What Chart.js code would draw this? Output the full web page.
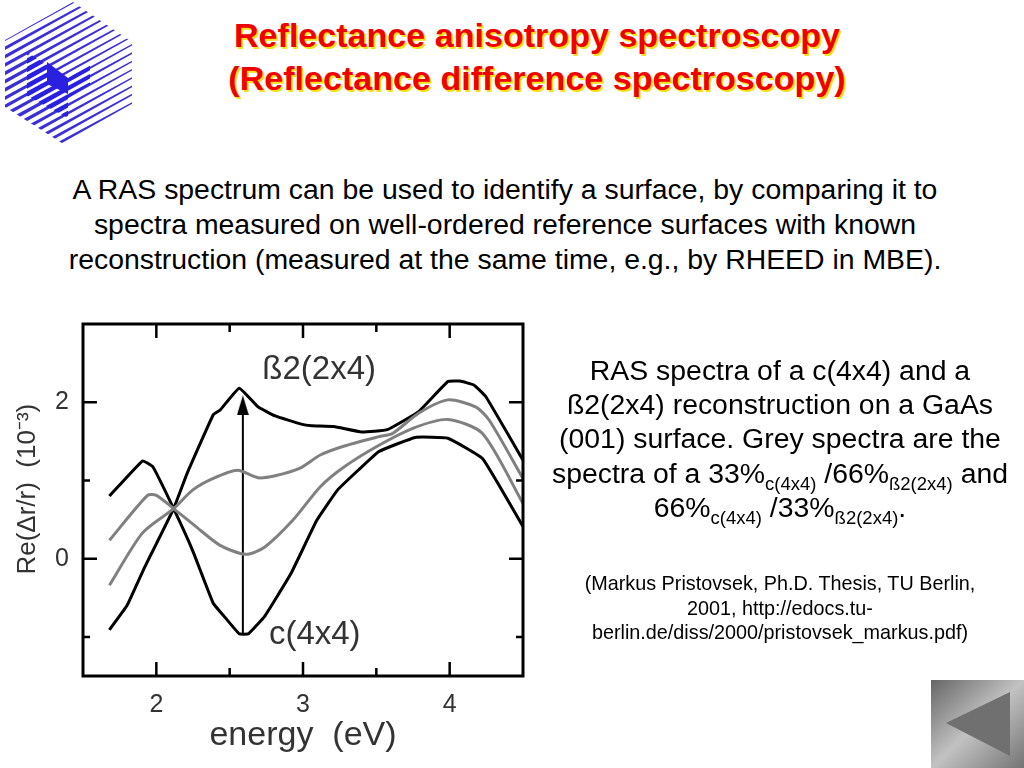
<!DOCTYPE html>
<html>
<head>
<meta charset="utf-8">
<title>Reflectance anisotropy spectroscopy</title>
<script src="https://cdn.jsdelivr.net/npm/chart.js@4/dist/chart.umd.min.js"></script>
<style>
  html, body { margin: 0; padding: 0; background: #fff; }
  body { width: 1024px; height: 768px; position: relative; overflow: hidden; font-family: "Liberation Sans", Arial, sans-serif; color: #000; }
  .block { position: absolute; text-align: center; white-space: nowrap; }
  #title { left: 137px; width: 800px; top: 14px; font-size: 34.1px; line-height: 43px; font-weight: bold; color: #f00000; text-shadow: 2px 2px 0 #f2e21c; }
  #intro { left: 5px; width: 1000px; top: 172px; font-size: 28.4px; line-height: 34.8px; }
  #note { left: 530px; width: 500px; top: 353px; font-size: 28.4px; line-height: 34.2px; }
  #note sub { font-size: 18.5px; line-height: 0; }
  #source { left: 530px; width: 500px; top: 571px; font-size: 19.8px; line-height: 24.5px; }
  #chartBox { position: absolute; left: 0; top: 310px; width: 540px; height: 450px; }
  #logo, #navButton { position: absolute; }
  #logo { left: 0; top: 0; }
  #navButton { left: 931px; top: 680px; }
</style>
</head>
<body>
<svg id="logo" width="140" height="150" viewBox="0 0 140 150"></svg>
<div id="title" class="block">Reflectance anisotropy spectroscopy<br>(Reflectance difference spectroscopy)</div>
<div id="intro" class="block">A RAS spectrum can be used to identify a surface, by comparing it to<br>spectra measured on well-ordered reference surfaces with known<br>reconstruction (measured at the same time, e.g., by RHEED in MBE).</div>
<div id="chartBox"><canvas id="rasChart" width="540" height="450"></canvas></div>
<div id="note" class="block">RAS spectra of a c(4x4) and a<br>ß2(2x4) reconstruction on a GaAs<br>(001) surface. Grey spectra are the<br>spectra of a 33%<sub>c(4x4)</sub> /66%<sub>ß2(2x4)</sub> and<br>66%<sub>c(4x4)</sub> /33%<sub>ß2(2x4)</sub>.</div>
<div id="source" class="block">(Markus Pristovsek, Ph.D. Thesis, TU Berlin,<br>2001, http://edocs.tu-<br>berlin.de/diss/2000/pristovsek_markus.pdf)</div>
<svg id="navButton" width="93" height="88" viewBox="0 0 93 88">
  <defs>
    <linearGradient id="navFill" x1="0" y1="0" x2="1" y2="1">
      <stop offset="0" stop-color="#666"/>
      <stop offset="0.5" stop-color="#c2c2c2"/>
      <stop offset="1" stop-color="#747474"/>
    </linearGradient>
  </defs>
  <rect width="93" height="88" fill="url(#navFill)"/>
  <polygon points="15,43 79,12 79,76" fill="#707070"/>
</svg>
<script>
// values
const beta2Energy = [1.68, 1.80, 1.92, 2.0, 2.118, 2.21, 2.388, 2.435, 2.565, 2.694, 2.81, 2.988, 3.06, 3.21, 3.40, 3.576, 3.788, 3.988, 4.07, 4.165, 4.247, 4.5];
const beta2Values = [-0.91, -0.60, -0.11, 0.19, 0.64, 1.09, 1.84, 1.90, 2.18, 1.94, 1.825, 1.72, 1.70, 1.69, 1.62, 1.65, 1.88, 2.265, 2.27, 2.22, 2.07, 1.26];

const c4x4Energy = [1.68, 1.906, 1.976, 2.118, 2.247, 2.388, 2.459, 2.565, 2.628, 2.741, 2.918, 3.094, 3.235, 3.376, 3.518, 3.765, 3.988, 4.224, 4.5];
const c4x4Values = [0.80, 1.25, 1.175, 0.64, 0.107, -0.57, -0.73, -0.96, -0.96, -0.73, -0.19, 0.49, 0.876, 1.13, 1.37, 1.55, 1.54, 1.28, 0.41];

const mixBetaEnergy = [1.68, 1.906, 2.118, 2.247, 2.388, 2.553, 2.694, 2.81, 2.976, 3.118, 3.282, 3.518, 3.61, 3.788, 3.988, 4.176, 4.27, 4.5];
const mixBetaValues = [-0.34, 0.33, 0.64, 0.876, 1.026, 1.13, 1.034, 1.06, 1.154, 1.325, 1.44, 1.56, 1.60, 1.86, 2.03, 1.94, 1.77, 1.025];

const mixCEnergy = [1.68, 1.94, 2.0, 2.118, 2.27, 2.435, 2.61, 2.74, 2.93, 3.118, 3.282, 3.518, 3.753, 3.988, 4.224, 4.5];
const mixCValues = [0.235, 0.81, 0.81, 0.64, 0.41, 0.17, 0.055, 0.15, 0.49, 0.92, 1.175, 1.45, 1.67, 1.78, 1.60, 0.705];

const arrowEnergy = [2.59, 2.59];
const arrowValues = [-0.97, 1.96];

const xTickLabels = [2, 3, 4];
const yTickLabels = [2, 0];
const curveLabels = ['ß2(2x4)', 'c(4x4)'];
const curveLabelEnergy = [3.11, 3.08];
const curveLabelValues = [2.41, -0.977];

const toPoints = (xs, ys) => xs.map((x, i) => ({ x, y: ys[i] }));
const textColor = '#333';
const fontFamily = '"Liberation Sans", Arial, sans-serif';

// narrow arrow head, the built in triangle is too wide
const arrowHead = document.createElement('canvas');
arrowHead.width = 12;
arrowHead.height = 20;
const headCtx = arrowHead.getContext('2d');
headCtx.fillStyle = '#000';
headCtx.beginPath();
headCtx.moveTo(6, 0);
headCtx.lineTo(12, 20);
headCtx.lineTo(0, 20);
headCtx.fill();

// frame, inward ticks on all four sides and the two curve names
const framePlugin = {
  id: 'frame',
  afterDatasetsDraw(chart) {
    const { ctx, chartArea: a, scales: { x, y } } = chart;
    ctx.save();
    ctx.strokeStyle = '#000';
    ctx.lineWidth = 3;
    ctx.strokeRect(a.left, a.top, a.right - a.left, a.bottom - a.top);
    ctx.lineWidth = 2.5;
    x.ticks.forEach((t) => {
      if (t.value <= x.min || t.value >= x.max) return;
      const px = x.getPixelForValue(t.value);
      const len = Number.isInteger(t.value) ? 14 : 8;
      ctx.beginPath();
      ctx.moveTo(px, a.top); ctx.lineTo(px, a.top + len);
      ctx.moveTo(px, a.bottom); ctx.lineTo(px, a.bottom - len);
      ctx.stroke();
    });
    y.ticks.forEach((t) => {
      if (!Number.isInteger(t.value) || t.value <= y.min || t.value >= y.max) return;
      const py = y.getPixelForValue(t.value);
      const len = t.value % 2 === 0 ? 14 : 7;
      ctx.beginPath();
      ctx.moveTo(a.left, py); ctx.lineTo(a.left + len, py);
      ctx.moveTo(a.right, py); ctx.lineTo(a.right - len, py);
      ctx.stroke();
    });
    ctx.fillStyle = textColor;
    ctx.font = '33px ' + fontFamily;
    ctx.textAlign = 'center';
    ctx.textBaseline = 'middle';
    curveLabels.forEach((label, i) => {
      ctx.fillText(label, x.getPixelForValue(curveLabelEnergy[i]), y.getPixelForValue(curveLabelValues[i]));
    });
    ctx.restore();
  },
};

const blackLine = { borderColor: '#000', borderWidth: 3, pointRadius: 0, showLine: true, fill: false, borderJoinStyle: 'round', tension: 0.1 };
const greyLine = { borderColor: '#808080', borderWidth: 3, pointRadius: 0, showLine: true, fill: false, borderJoinStyle: 'round', tension: 0.25 };

new Chart(document.getElementById('rasChart'), {
  type: 'scatter',
  data: {
    datasets: [
      { label: '33% c(4x4) / 66% ß2(2x4)', data: toPoints(mixBetaEnergy, mixBetaValues), ...greyLine },
      { label: '66% c(4x4) / 33% ß2(2x4)', data: toPoints(mixCEnergy, mixCValues), ...greyLine },
      { label: 'ß2(2x4)', data: toPoints(beta2Energy, beta2Values), ...blackLine },
      { label: 'c(4x4)', data: toPoints(c4x4Energy, c4x4Values), ...blackLine },
      {
        label: 'arrow',
        data: toPoints(arrowEnergy, arrowValues),
        showLine: true,
        borderColor: '#000',
        borderWidth: 2,
        pointStyle: arrowHead,
        pointRadius: [0, 9],
      },
    ],
  },
  options: {
    responsive: false,
    animation: false,
    layout: { padding: { top: 14, right: 17, left: 0, bottom: 0 } },
    plugins: { legend: { display: false }, tooltip: { enabled: false }, title: { display: false } },
    scales: {
      x: {
        type: 'linear',
        min: 1.5,
        max: 4.5,
        grid: { display: false },
        border: { display: false },
        afterFit: (scale) => { scale.height = 84; },
        ticks: {
          stepSize: 0.5,
          padding: 6,
          autoSkip: false,
          maxRotation: 0,
          color: textColor,
          font: { family: fontFamily, size: 25 },
          callback: (v) => (xTickLabels.includes(v) ? String(v) : ''),
        },
        title: {
          display: true,
          text: 'energy  (eV)',
          color: textColor,
          font: { family: fontFamily, size: 34 },
          padding: { top: 0, bottom: 4 },
        },
      },
      y: {
        min: -1.5,
        max: 3,
        grid: { display: false },
        border: { display: false },
        afterFit: (scale) => { scale.width = 83; scale.paddingTop = 0; scale.paddingBottom = 0; },
        ticks: {
          stepSize: 1,
          padding: 6,
          autoSkip: false,
          color: textColor,
          font: { family: fontFamily, size: 25 },
          callback: (v) => (yTickLabels.includes(v) ? String(v) : ''),
        },
        title: {
          display: true,
          text: '   Re(Δr/r)  (10⁻³)',
          color: textColor,
          font: { family: fontFamily, size: 26 },
          padding: { top: 12, bottom: 0 },
        },
      },
    },
  },
  plugins: [framePlugin],
});

// corporate logo, only decoration
const logo = document.getElementById('logo');
const svgNs = 'http://www.w3.org/2000/svg';
const addEl = (parent, name, attrs) => {
  const el = document.createElementNS(svgNs, name);
  Object.keys(attrs).forEach((k) => el.setAttribute(k, attrs[k]));
  parent.appendChild(el);
  return el;
};
const defs = addEl(logo, 'defs', {});
addEl(addEl(defs, 'clipPath', { id: 'hexClip' }), 'polygon', { points: '73,2 132,42 132,108 65,145 5,107 5,40' });
addEl(addEl(defs, 'clipPath', { id: 'cubeClip' }), 'polygon', { points: '27,52 68,78 90,64 90,84 68,98 68,118 27,96' });
const hexLines = addEl(logo, 'g', { 'clip-path': 'url(#hexClip)', fill: '#3b30d6' });
const cubeLines = addEl(logo, 'g', { 'clip-path': 'url(#cubeClip)', fill: '#2a20e0' });
const leftWidths = [2, 3.5, 4, 4, 4, 4, 4, 4, 4, 4, 4.5, 4.5, 4.5, 4.5, 4.5, 4.5, 4.5];
// tapered stripes, thick on the left and thin on the right
const stripe = (y0, w1, w2) => `0,${y0 + 2.75 - w1 / 2} 140,${y0 - 74.25 - w2 / 2} 140,${y0 - 74.25 + w2 / 2} 0,${y0 + 2.75 + w1 / 2}`;
leftWidths.forEach((w, i) => {
  const y0 = 40 + i * 8.3;
  addEl(hexLines, 'polygon', { points: stripe(y0, w, 1.4) });
  addEl(cubeLines, 'polygon', { points: stripe(y0, w + 2, 3.5) });
});
addEl(logo, 'polygon', { points: '47,62 68,78 68,94 47,84', fill: '#2a20e0' });
</script>
</body>
</html>
